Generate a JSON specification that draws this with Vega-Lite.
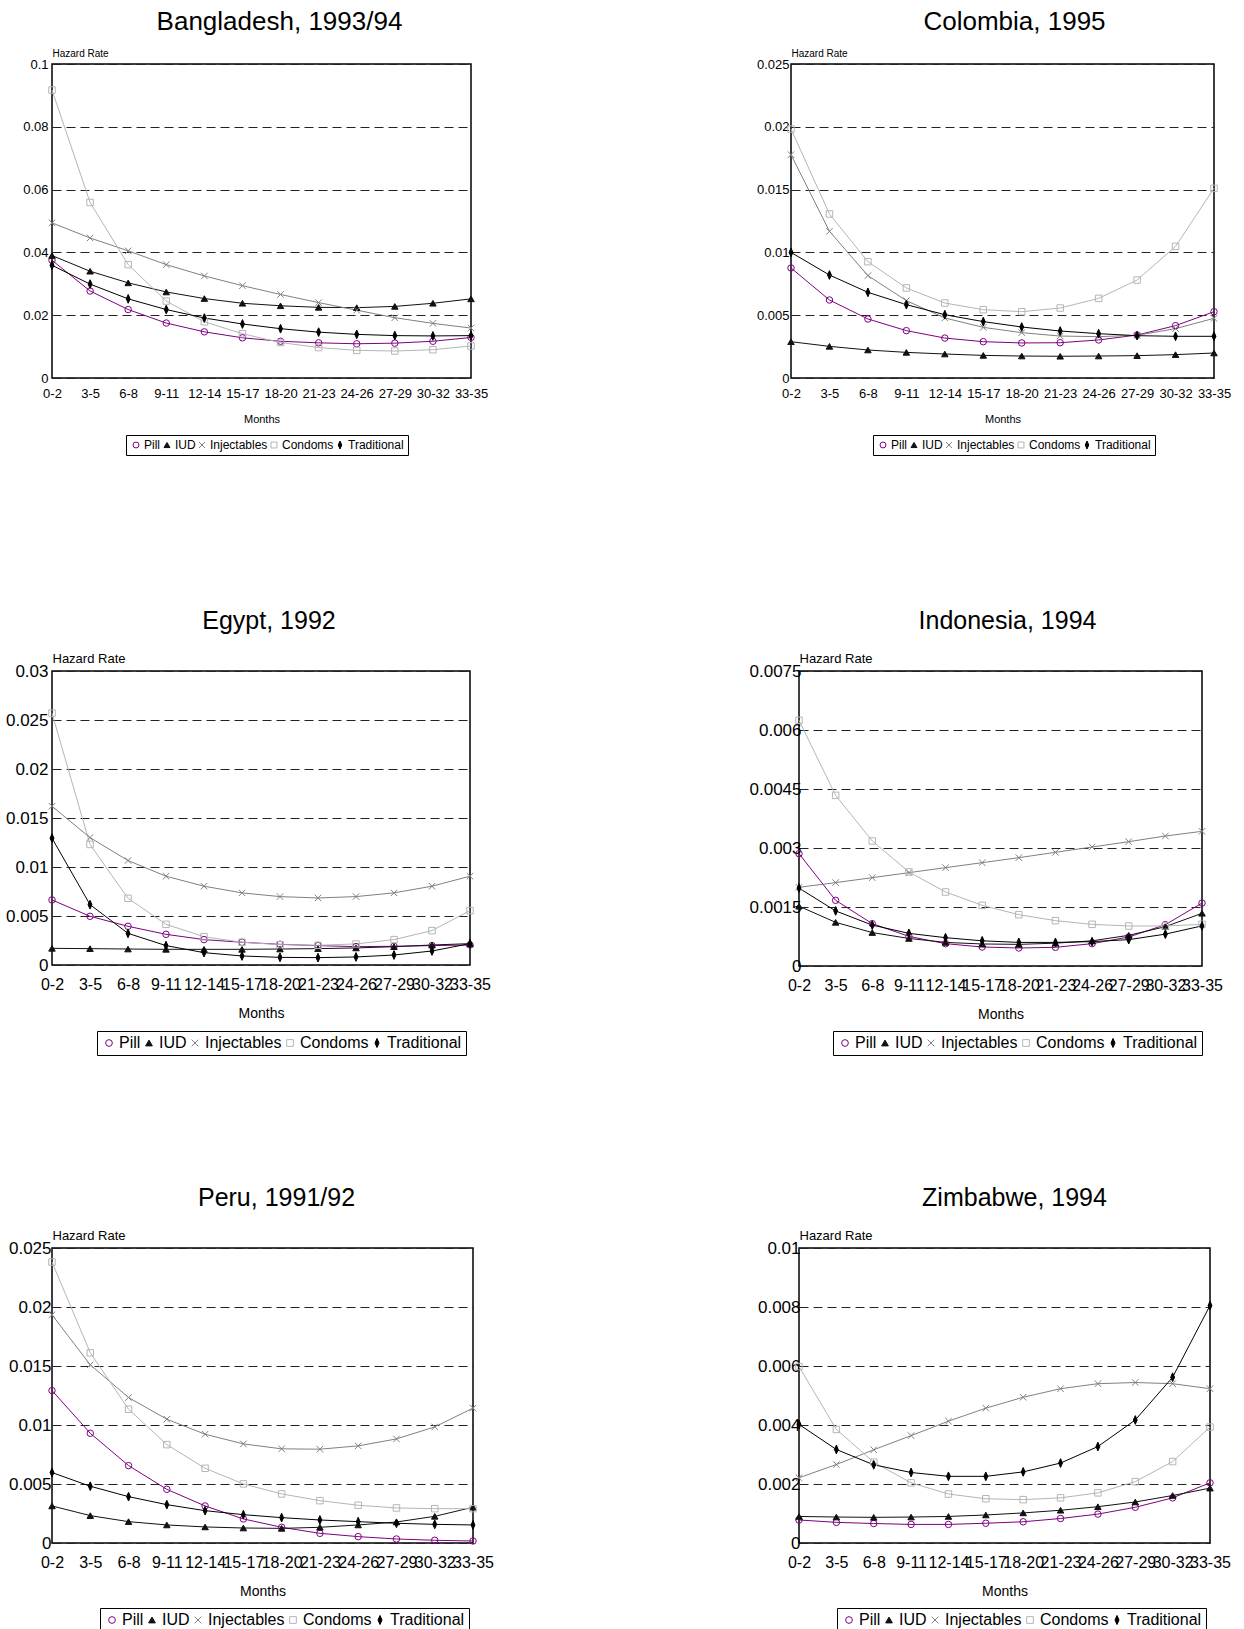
{
"$schema": "https://vega.github.io/schema/vega-lite/v6.json",
"background": "white",
"padding": {"left": 4, "top": 8, "right": 0, "bottom": 0},
"config": {
 "font": "Liberation Sans",
 "view": {"stroke": "black", "strokeWidth": 1.5},
 "axis": {"ticks": false, "domain": false, "labelColor": "black", "titleColor": "black", "titleFont": "Liberation Sans", "titleFontWeight": "normal", "labelFont": "Liberation Sans"},
 "axisY": {"grid": true, "gridColor": "#222222", "gridDash": [9, 5], "gridWidth": 1, "titleAngle": 0, "titleAlign": "left", "titleBaseline": "alphabetic", "titleX": 0, "titleY": -9, "labelFontSize": 17, "titleFontSize": 13, "labelPadding": 3},
 "axisX": {"grid": false, "labelAngle": 0, "labelFontSize": 16, "titleFontSize": 14, "labelPadding": 11, "titlePadding": 14, "labelOverlap": false},
 "legend": {"orient": "none", "direction": "horizontal", "columns": 5, "strokeColor": "black", "padding": 4, "labelFontSize": 16, "symbolSize": 45, "columnPadding": 0, "labelOffset": 2, "symbolStrokeWidth": 1, "labelColor": "black", "labelFont": "Liberation Sans"},
 "title": {"fontSize": 25, "fontWeight": "normal", "font": "Liberation Sans", "color": "black", "frame": "group", "anchor": "middle", "offset": 18},
 "point": {"size": 42, "strokeWidth": 1, "opacity": 1}
},
"datasets": {
 "bd": [
  {"m":"0-2","s":"Pill","v":0.0375},{"m":"3-5","s":"Pill","v":0.0277},{"m":"6-8","s":"Pill","v":0.0218},{"m":"9-11","s":"Pill","v":0.0175},{"m":"12-14","s":"Pill","v":0.0147},{"m":"15-17","s":"Pill","v":0.0128},{"m":"18-20","s":"Pill","v":0.0117},{"m":"21-23","s":"Pill","v":0.0112},{"m":"24-26","s":"Pill","v":0.0109},{"m":"27-29","s":"Pill","v":0.0111},{"m":"30-32","s":"Pill","v":0.0117},{"m":"33-35","s":"Pill","v":0.0129},
  {"m":"0-2","s":"IUD","v":0.039},{"m":"3-5","s":"IUD","v":0.034},{"m":"6-8","s":"IUD","v":0.0303},{"m":"9-11","s":"IUD","v":0.0274},{"m":"12-14","s":"IUD","v":0.0253},{"m":"15-17","s":"IUD","v":0.0238},{"m":"18-20","s":"IUD","v":0.023},{"m":"21-23","s":"IUD","v":0.0225},{"m":"24-26","s":"IUD","v":0.0224},{"m":"27-29","s":"IUD","v":0.0228},{"m":"30-32","s":"IUD","v":0.0238},{"m":"33-35","s":"IUD","v":0.0252},
  {"m":"0-2","s":"Injectables","v":0.0494},{"m":"3-5","s":"Injectables","v":0.0446},{"m":"6-8","s":"Injectables","v":0.0405},{"m":"9-11","s":"Injectables","v":0.0361},{"m":"12-14","s":"Injectables","v":0.0325},{"m":"15-17","s":"Injectables","v":0.0294},{"m":"18-20","s":"Injectables","v":0.0266},{"m":"21-23","s":"Injectables","v":0.024},{"m":"24-26","s":"Injectables","v":0.0216},{"m":"27-29","s":"Injectables","v":0.0192},{"m":"30-32","s":"Injectables","v":0.0174},{"m":"33-35","s":"Injectables","v":0.0159},
  {"m":"0-2","s":"Condoms","v":0.0917},{"m":"3-5","s":"Condoms","v":0.0559},{"m":"6-8","s":"Condoms","v":0.0361},{"m":"9-11","s":"Condoms","v":0.0245},{"m":"12-14","s":"Condoms","v":0.0179},{"m":"15-17","s":"Condoms","v":0.0141},{"m":"18-20","s":"Condoms","v":0.0113},{"m":"21-23","s":"Condoms","v":0.0097},{"m":"24-26","s":"Condoms","v":0.0088},{"m":"27-29","s":"Condoms","v":0.0086},{"m":"30-32","s":"Condoms","v":0.009},{"m":"33-35","s":"Condoms","v":0.0102},
  {"m":"0-2","s":"Traditional","v":0.0359},{"m":"3-5","s":"Traditional","v":0.0299},{"m":"6-8","s":"Traditional","v":0.0252},{"m":"9-11","s":"Traditional","v":0.0218},{"m":"12-14","s":"Traditional","v":0.0191},{"m":"15-17","s":"Traditional","v":0.0172},{"m":"18-20","s":"Traditional","v":0.0157},{"m":"21-23","s":"Traditional","v":0.0146},{"m":"24-26","s":"Traditional","v":0.0139},{"m":"27-29","s":"Traditional","v":0.0135},{"m":"30-32","s":"Traditional","v":0.0134},{"m":"33-35","s":"Traditional","v":0.0135}
 ],
 "co": [
  {"m":"0-2","s":"Pill","v":0.00876},{"m":"3-5","s":"Pill","v":0.00621},{"m":"6-8","s":"Pill","v":0.0047},{"m":"9-11","s":"Pill","v":0.00377},{"m":"12-14","s":"Pill","v":0.00318},{"m":"15-17","s":"Pill","v":0.00289},{"m":"18-20","s":"Pill","v":0.00279},{"m":"21-23","s":"Pill","v":0.00281},{"m":"24-26","s":"Pill","v":0.00303},{"m":"27-29","s":"Pill","v":0.00342},{"m":"30-32","s":"Pill","v":0.00417},{"m":"33-35","s":"Pill","v":0.00528},
  {"m":"0-2","s":"IUD","v":0.00289},{"m":"3-5","s":"IUD","v":0.00252},{"m":"6-8","s":"IUD","v":0.00223},{"m":"9-11","s":"IUD","v":0.00204},{"m":"12-14","s":"IUD","v":0.00191},{"m":"15-17","s":"IUD","v":0.0018},{"m":"18-20","s":"IUD","v":0.00175},{"m":"21-23","s":"IUD","v":0.00173},{"m":"24-26","s":"IUD","v":0.00175},{"m":"27-29","s":"IUD","v":0.00178},{"m":"30-32","s":"IUD","v":0.00186},{"m":"33-35","s":"IUD","v":0.00199},
  {"m":"0-2","s":"Injectables","v":0.01778},{"m":"3-5","s":"Injectables","v":0.01168},{"m":"6-8","s":"Injectables","v":0.00815},{"m":"9-11","s":"Injectables","v":0.00616},{"m":"12-14","s":"Injectables","v":0.00478},{"m":"15-17","s":"Injectables","v":0.00403},{"m":"18-20","s":"Injectables","v":0.00361},{"m":"21-23","s":"Injectables","v":0.00334},{"m":"24-26","s":"Injectables","v":0.00329},{"m":"27-29","s":"Injectables","v":0.0034},{"m":"30-32","s":"Injectables","v":0.00393},{"m":"33-35","s":"Injectables","v":0.00475},
  {"m":"0-2","s":"Condoms","v":0.01982},{"m":"3-5","s":"Condoms","v":0.01306},{"m":"6-8","s":"Condoms","v":0.00926},{"m":"9-11","s":"Condoms","v":0.00717},{"m":"12-14","s":"Condoms","v":0.00597},{"m":"15-17","s":"Condoms","v":0.00544},{"m":"18-20","s":"Condoms","v":0.00528},{"m":"21-23","s":"Condoms","v":0.00557},{"m":"24-26","s":"Condoms","v":0.00634},{"m":"27-29","s":"Condoms","v":0.0078},{"m":"30-32","s":"Condoms","v":0.01048},{"m":"33-35","s":"Condoms","v":0.0151},
  {"m":"0-2","s":"Traditional","v":0.01},{"m":"3-5","s":"Traditional","v":0.0082},{"m":"6-8","s":"Traditional","v":0.00682},{"m":"9-11","s":"Traditional","v":0.00584},{"m":"12-14","s":"Traditional","v":0.00504},{"m":"15-17","s":"Traditional","v":0.00449},{"m":"18-20","s":"Traditional","v":0.00406},{"m":"21-23","s":"Traditional","v":0.00374},{"m":"24-26","s":"Traditional","v":0.00353},{"m":"27-29","s":"Traditional","v":0.00337},{"m":"30-32","s":"Traditional","v":0.00332},{"m":"33-35","s":"Traditional","v":0.00332}
 ],
 "eg": [
  {"m":"0-2","s":"Pill","v":0.00664},{"m":"3-5","s":"Pill","v":0.00497},{"m":"6-8","s":"Pill","v":0.00395},{"m":"9-11","s":"Pill","v":0.00313},{"m":"12-14","s":"Pill","v":0.00259},{"m":"15-17","s":"Pill","v":0.00232},{"m":"18-20","s":"Pill","v":0.00211},{"m":"21-23","s":"Pill","v":0.00198},{"m":"24-26","s":"Pill","v":0.00187},{"m":"27-29","s":"Pill","v":0.00191},{"m":"30-32","s":"Pill","v":0.00198},{"m":"33-35","s":"Pill","v":0.00204},
  {"m":"0-2","s":"IUD","v":0.0017},{"m":"3-5","s":"IUD","v":0.00167},{"m":"6-8","s":"IUD","v":0.00163},{"m":"9-11","s":"IUD","v":0.0016},{"m":"12-14","s":"IUD","v":0.0016},{"m":"15-17","s":"IUD","v":0.0016},{"m":"18-20","s":"IUD","v":0.00163},{"m":"21-23","s":"IUD","v":0.00167},{"m":"24-26","s":"IUD","v":0.00174},{"m":"27-29","s":"IUD","v":0.00187},{"m":"30-32","s":"IUD","v":0.00204},{"m":"33-35","s":"IUD","v":0.00218},
  {"m":"0-2","s":"Injectables","v":0.0162},{"m":"3-5","s":"Injectables","v":0.013},{"m":"6-8","s":"Injectables","v":0.01066},{"m":"9-11","s":"Injectables","v":0.00906},{"m":"12-14","s":"Injectables","v":0.00804},{"m":"15-17","s":"Injectables","v":0.00736},{"m":"18-20","s":"Injectables","v":0.00698},{"m":"21-23","s":"Injectables","v":0.00684},{"m":"24-26","s":"Injectables","v":0.00698},{"m":"27-29","s":"Injectables","v":0.00736},{"m":"30-32","s":"Injectables","v":0.00804},{"m":"33-35","s":"Injectables","v":0.00906},
  {"m":"0-2","s":"Condoms","v":0.0257},{"m":"3-5","s":"Condoms","v":0.0123},{"m":"6-8","s":"Condoms","v":0.00681},{"m":"9-11","s":"Condoms","v":0.00415},{"m":"12-14","s":"Condoms","v":0.00289},{"m":"15-17","s":"Condoms","v":0.00232},{"m":"18-20","s":"Condoms","v":0.00208},{"m":"21-23","s":"Condoms","v":0.00201},{"m":"24-26","s":"Condoms","v":0.00215},{"m":"27-29","s":"Condoms","v":0.00259},{"m":"30-32","s":"Condoms","v":0.00351},{"m":"33-35","s":"Condoms","v":0.00555},
  {"m":"0-2","s":"Traditional","v":0.01294},{"m":"3-5","s":"Traditional","v":0.00616},{"m":"6-8","s":"Traditional","v":0.00323},{"m":"9-11","s":"Traditional","v":0.00198},{"m":"12-14","s":"Traditional","v":0.00126},{"m":"15-17","s":"Traditional","v":0.00092},{"m":"18-20","s":"Traditional","v":0.00078},{"m":"21-23","s":"Traditional","v":0.00075},{"m":"24-26","s":"Traditional","v":0.00082},{"m":"27-29","s":"Traditional","v":0.00102},{"m":"30-32","s":"Traditional","v":0.00143},{"m":"33-35","s":"Traditional","v":0.00218}
 ],
 "id": [
  {"m":"0-2","s":"Pill","v":0.002856},{"m":"3-5","s":"Pill","v":0.00167},{"m":"6-8","s":"Pill","v":0.001076},{"m":"9-11","s":"Pill","v":0.000754},{"m":"12-14","s":"Pill","v":0.000568},{"m":"15-17","s":"Pill","v":0.000483},{"m":"18-20","s":"Pill","v":0.000458},{"m":"21-23","s":"Pill","v":0.000475},{"m":"24-26","s":"Pill","v":0.000568},{"m":"27-29","s":"Pill","v":0.000737},{"m":"30-32","s":"Pill","v":0.001051},{"m":"33-35","s":"Pill","v":0.0016},
  {"m":"0-2","s":"IUD","v":0.00152},{"m":"3-5","s":"IUD","v":0.00111},{"m":"6-8","s":"IUD","v":0.00085},{"m":"9-11","s":"IUD","v":0.0007},{"m":"12-14","s":"IUD","v":0.0006},{"m":"15-17","s":"IUD","v":0.00056},{"m":"18-20","s":"IUD","v":0.00055},{"m":"21-23","s":"IUD","v":0.00058},{"m":"24-26","s":"IUD","v":0.00064},{"m":"27-29","s":"IUD","v":0.00078},{"m":"30-32","s":"IUD","v":0.001},{"m":"33-35","s":"IUD","v":0.00134},
  {"m":"0-2","s":"Injectables","v":0.002},{"m":"3-5","s":"Injectables","v":0.00212},{"m":"6-8","s":"Injectables","v":0.002246},{"m":"9-11","s":"Injectables","v":0.002373},{"m":"12-14","s":"Injectables","v":0.0025},{"m":"15-17","s":"Injectables","v":0.002627},{"m":"18-20","s":"Injectables","v":0.002754},{"m":"21-23","s":"Injectables","v":0.00289},{"m":"24-26","s":"Injectables","v":0.003025},{"m":"27-29","s":"Injectables","v":0.003161},{"m":"30-32","s":"Injectables","v":0.003305},{"m":"33-35","s":"Injectables","v":0.003424},
  {"m":"0-2","s":"Condoms","v":0.006246},{"m":"3-5","s":"Condoms","v":0.004339},{"m":"6-8","s":"Condoms","v":0.003178},{"m":"9-11","s":"Condoms","v":0.00239},{"m":"12-14","s":"Condoms","v":0.001881},{"m":"15-17","s":"Condoms","v":0.001542},{"m":"18-20","s":"Condoms","v":0.001305},{"m":"21-23","s":"Condoms","v":0.001153},{"m":"24-26","s":"Condoms","v":0.001059},{"m":"27-29","s":"Condoms","v":0.001017},{"m":"30-32","s":"Condoms","v":0.001017},{"m":"33-35","s":"Condoms","v":0.001059},
  {"m":"0-2","s":"Traditional","v":0.00198},{"m":"3-5","s":"Traditional","v":0.0014},{"m":"6-8","s":"Traditional","v":0.00104},{"m":"9-11","s":"Traditional","v":0.00083},{"m":"12-14","s":"Traditional","v":0.00072},{"m":"15-17","s":"Traditional","v":0.00064},{"m":"18-20","s":"Traditional","v":0.0006},{"m":"21-23","s":"Traditional","v":0.0006},{"m":"24-26","s":"Traditional","v":0.00062},{"m":"27-29","s":"Traditional","v":0.00067},{"m":"30-32","s":"Traditional","v":0.00081},{"m":"33-35","s":"Traditional","v":0.00102}
 ],
 "pe": [
  {"m":"0-2","s":"Pill","v":0.01292},{"m":"3-5","s":"Pill","v":0.0093},{"m":"6-8","s":"Pill","v":0.00656},{"m":"9-11","s":"Pill","v":0.00455},{"m":"12-14","s":"Pill","v":0.00314},{"m":"15-17","s":"Pill","v":0.00204},{"m":"18-20","s":"Pill","v":0.00133},{"m":"21-23","s":"Pill","v":0.00082},{"m":"24-26","s":"Pill","v":0.00054},{"m":"27-29","s":"Pill","v":0.00034},{"m":"30-32","s":"Pill","v":0.00023},{"m":"33-35","s":"Pill","v":0.00017},
  {"m":"0-2","s":"IUD","v":0.00314},{"m":"3-5","s":"IUD","v":0.00232},{"m":"6-8","s":"IUD","v":0.00181},{"m":"9-11","s":"IUD","v":0.00153},{"m":"12-14","s":"IUD","v":0.00136},{"m":"15-17","s":"IUD","v":0.00127},{"m":"18-20","s":"IUD","v":0.00124},{"m":"21-23","s":"IUD","v":0.00133},{"m":"24-26","s":"IUD","v":0.00153},{"m":"27-29","s":"IUD","v":0.00178},{"m":"30-32","s":"IUD","v":0.00226},{"m":"33-35","s":"IUD","v":0.00303},
  {"m":"0-2","s":"Injectables","v":0.01934},{"m":"3-5","s":"Injectables","v":0.0151},{"m":"6-8","s":"Injectables","v":0.01233},{"m":"9-11","s":"Injectables","v":0.01049},{"m":"12-14","s":"Injectables","v":0.00922},{"m":"15-17","s":"Injectables","v":0.0084},{"m":"18-20","s":"Injectables","v":0.00798},{"m":"21-23","s":"Injectables","v":0.00795},{"m":"24-26","s":"Injectables","v":0.00823},{"m":"27-29","s":"Injectables","v":0.00882},{"m":"30-32","s":"Injectables","v":0.00984},{"m":"33-35","s":"Injectables","v":0.01143},
  {"m":"0-2","s":"Condoms","v":0.02381},{"m":"3-5","s":"Condoms","v":0.01612},{"m":"6-8","s":"Condoms","v":0.01134},{"m":"9-11","s":"Condoms","v":0.00834},{"m":"12-14","s":"Condoms","v":0.00633},{"m":"15-17","s":"Condoms","v":0.00501},{"m":"18-20","s":"Condoms","v":0.00416},{"m":"21-23","s":"Condoms","v":0.00359},{"m":"24-26","s":"Condoms","v":0.0032},{"m":"27-29","s":"Condoms","v":0.00297},{"m":"30-32","s":"Condoms","v":0.00291},{"m":"33-35","s":"Condoms","v":0.00291},
  {"m":"0-2","s":"Traditional","v":0.00597},{"m":"3-5","s":"Traditional","v":0.00481},{"m":"6-8","s":"Traditional","v":0.00393},{"m":"9-11","s":"Traditional","v":0.00325},{"m":"12-14","s":"Traditional","v":0.00274},{"m":"15-17","s":"Traditional","v":0.0024},{"m":"18-20","s":"Traditional","v":0.00215},{"m":"21-23","s":"Traditional","v":0.00195},{"m":"24-26","s":"Traditional","v":0.00181},{"m":"27-29","s":"Traditional","v":0.00167},{"m":"30-32","s":"Traditional","v":0.00158},{"m":"33-35","s":"Traditional","v":0.00153}
 ],
 "zw": [
  {"m":"0-2","s":"Pill","v":0.00078},{"m":"3-5","s":"Pill","v":0.0007},{"m":"6-8","s":"Pill","v":0.00066},{"m":"9-11","s":"Pill","v":0.00063},{"m":"12-14","s":"Pill","v":0.00063},{"m":"15-17","s":"Pill","v":0.00067},{"m":"18-20","s":"Pill","v":0.00072},{"m":"21-23","s":"Pill","v":0.00083},{"m":"24-26","s":"Pill","v":0.00098},{"m":"27-29","s":"Pill","v":0.00121},{"m":"30-32","s":"Pill","v":0.00153},{"m":"33-35","s":"Pill","v":0.00204},
  {"m":"0-2","s":"IUD","v":0.0009},{"m":"3-5","s":"IUD","v":0.00088},{"m":"6-8","s":"IUD","v":0.00087},{"m":"9-11","s":"IUD","v":0.00088},{"m":"12-14","s":"IUD","v":0.0009},{"m":"15-17","s":"IUD","v":0.00095},{"m":"18-20","s":"IUD","v":0.00102},{"m":"21-23","s":"IUD","v":0.00111},{"m":"24-26","s":"IUD","v":0.00123},{"m":"27-29","s":"IUD","v":0.00139},{"m":"30-32","s":"IUD","v":0.00161},{"m":"33-35","s":"IUD","v":0.00186},
  {"m":"0-2","s":"Injectables","v":0.00221},{"m":"3-5","s":"Injectables","v":0.00266},{"m":"6-8","s":"Injectables","v":0.00316},{"m":"9-11","s":"Injectables","v":0.00364},{"m":"12-14","s":"Injectables","v":0.00413},{"m":"15-17","s":"Injectables","v":0.00457},{"m":"18-20","s":"Injectables","v":0.00494},{"m":"21-23","s":"Injectables","v":0.00523},{"m":"24-26","s":"Injectables","v":0.0054},{"m":"27-29","s":"Injectables","v":0.00544},{"m":"30-32","s":"Injectables","v":0.0054},{"m":"33-35","s":"Injectables","v":0.00523},
  {"m":"0-2","s":"Condoms","v":0.00598},{"m":"3-5","s":"Condoms","v":0.00385},{"m":"6-8","s":"Condoms","v":0.00274},{"m":"9-11","s":"Condoms","v":0.00204},{"m":"12-14","s":"Condoms","v":0.00166},{"m":"15-17","s":"Condoms","v":0.0015},{"m":"18-20","s":"Condoms","v":0.00147},{"m":"21-23","s":"Condoms","v":0.00153},{"m":"24-26","s":"Condoms","v":0.0017},{"m":"27-29","s":"Condoms","v":0.00208},{"m":"30-32","s":"Condoms","v":0.00276},{"m":"33-35","s":"Condoms","v":0.00393},
  {"m":"0-2","s":"Traditional","v":0.00402},{"m":"3-5","s":"Traditional","v":0.00317},{"m":"6-8","s":"Traditional","v":0.00265},{"m":"9-11","s":"Traditional","v":0.00239},{"m":"12-14","s":"Traditional","v":0.00226},{"m":"15-17","s":"Traditional","v":0.00226},{"m":"18-20","s":"Traditional","v":0.00241},{"m":"21-23","s":"Traditional","v":0.00271},{"m":"24-26","s":"Traditional","v":0.00327},{"m":"27-29","s":"Traditional","v":0.00417},{"m":"30-32","s":"Traditional","v":0.00562},{"m":"33-35","s":"Traditional","v":0.00805}
 ]
},
"spacing": 128,
"resolve": {"scale": {"stroke": "independent", "shape": "independent", "fill": "independent"}, "legend": {"stroke": "independent", "shape": "independent", "fill": "independent"}},
"vconcat": [
 {"spacing": 151,
  "resolve": {"scale": {"stroke": "independent", "shape": "independent", "fill": "independent"}, "legend": {"stroke": "independent", "shape": "independent", "fill": "independent"}},
  "vconcat": [
  {"hconcat": [
   {"width": 419, "height": 314, "data": {"name": "bd"},
    "title": {"text": "Bangladesh, 1993/94", "dx": 18, "fontSize": 26, "offset": 13},
    "encoding": {
     "x": {"field": "m", "type": "ordinal", "sort": ["0-2","3-5","6-8","9-11","12-14","15-17","18-20","21-23","24-26","27-29","30-32","33-35"], "scale": {"type": "point", "padding": 0}, "axis": {"title": "Months", "labelFontSize": 13, "titleFontSize": 11, "labelPadding": 9, "titlePadding": 13}},
     "y": {"field": "v", "type": "quantitative", "scale": {"domain": [0, 0.1], "nice": false}, "axis": {"values": [0, 0.02, 0.04, 0.06, 0.08, 0.1], "format": ".2~g", "title": "Hazard Rate", "labelFontSize": 13, "titleFontSize": 10, "titleY": -8, "labelPadding": 4}},
     "stroke": {"field": "s", "type": "nominal", "scale": {"domain": ["Pill","IUD","Injectables","Condoms","Traditional"], "range": ["#800080","#111111","#808080","#b5b5b5","#000000"]}, "legend": {"title": null, "orient": "none", "legendX": 74, "legendY": 371, "labelFontSize": 12, "symbolSize": 35}}
    },
    "layer": [
     {"mark": {"type": "line", "strokeWidth": 1}},
     {"mark": {"type": "point", "filled": true},
      "encoding": {
       "shape": {"field": "s", "type": "nominal", "scale": {"domain": ["Pill","IUD","Injectables","Condoms","Traditional"], "range": ["circle","triangle-up","M-1,-1L1,1M-1,1L1,-1","square","M0,-1.35L0.6,0L0,1.35L-0.6,0Z"]}, "legend": {"title": null, "orient": "none", "legendX": 74, "legendY": 371, "labelFontSize": 12, "symbolSize": 35}},
       "fill": {"field": "s", "type": "nominal", "scale": {"domain": ["Pill","IUD","Injectables","Condoms","Traditional"], "range": ["transparent","#111111","transparent","transparent","#000000"]}, "legend": {"title": null, "orient": "none", "legendX": 74, "legendY": 371, "labelFontSize": 12, "symbolSize": 35}}
      }}
    ]},
   {"width": 423, "height": 314, "data": {"name": "co"},
    "title": {"text": "Colombia, 1995", "dx": 12, "fontSize": 26, "offset": 13},
    "encoding": {
     "x": {"field": "m", "type": "ordinal", "sort": ["0-2","3-5","6-8","9-11","12-14","15-17","18-20","21-23","24-26","27-29","30-32","33-35"], "scale": {"type": "point", "padding": 0}, "axis": {"title": "Months", "labelFontSize": 13, "titleFontSize": 11, "labelPadding": 9, "titlePadding": 13}},
     "y": {"field": "v", "type": "quantitative", "scale": {"domain": [0, 0.025], "nice": false}, "axis": {"values": [0, 0.005, 0.01, 0.015, 0.02, 0.025], "format": ".2~g", "title": "Hazard Rate", "labelFontSize": 13, "titleFontSize": 10, "titleY": -8, "labelPadding": 2}},
     "stroke": {"field": "s", "type": "nominal", "scale": {"domain": ["Pill","IUD","Injectables","Condoms","Traditional"], "range": ["#800080","#111111","#808080","#b5b5b5","#000000"]}, "legend": {"title": null, "orient": "none", "legendX": 82, "legendY": 371, "labelFontSize": 12, "symbolSize": 35}}
    },
    "layer": [
     {"mark": {"type": "line", "strokeWidth": 1}},
     {"mark": {"type": "point", "filled": true},
      "encoding": {
       "shape": {"field": "s", "type": "nominal", "scale": {"domain": ["Pill","IUD","Injectables","Condoms","Traditional"], "range": ["circle","triangle-up","M-1,-1L1,1M-1,1L1,-1","square","M0,-1.35L0.6,0L0,1.35L-0.6,0Z"]}, "legend": {"title": null, "orient": "none", "legendX": 82, "legendY": 371, "labelFontSize": 12, "symbolSize": 35}},
       "fill": {"field": "s", "type": "nominal", "scale": {"domain": ["Pill","IUD","Injectables","Condoms","Traditional"], "range": ["transparent","#111111","transparent","transparent","#000000"]}, "legend": {"title": null, "orient": "none", "legendX": 82, "legendY": 371, "labelFontSize": 12, "symbolSize": 35}}
      }}
    ]}
  ], "spacing": 320, "bounds": "flush",
  "resolve": {"scale": {"stroke": "independent", "shape": "independent", "fill": "independent"}, "legend": {"stroke": "independent", "shape": "independent", "fill": "independent"}}},
  {"hconcat": [
   {"width": 418, "height": 294, "data": {"name": "eg"},
    "title": {"text": "Egypt, 1992", "dx": 8},
    "encoding": {
     "x": {"field": "m", "type": "ordinal", "sort": ["0-2","3-5","6-8","9-11","12-14","15-17","18-20","21-23","24-26","27-29","30-32","33-35"], "scale": {"type": "point", "padding": 0}, "axis": {"title": "Months"}},
     "y": {"field": "v", "type": "quantitative", "scale": {"domain": [0, 0.03], "nice": false}, "axis": {"values": [0, 0.005, 0.01, 0.015, 0.02, 0.025, 0.03], "format": ".2~g", "title": "Hazard Rate", "labelPadding": 4}},
     "stroke": {"field": "s", "type": "nominal", "scale": {"domain": ["Pill","IUD","Injectables","Condoms","Traditional"], "range": ["#800080","#111111","#808080","#b5b5b5","#000000"]}, "legend": {"title": null, "orient": "none", "legendX": 45, "legendY": 360}}
    },
    "layer": [
     {"mark": {"type": "line", "strokeWidth": 1}},
     {"mark": {"type": "point", "filled": true},
      "encoding": {
       "shape": {"field": "s", "type": "nominal", "scale": {"domain": ["Pill","IUD","Injectables","Condoms","Traditional"], "range": ["circle","triangle-up","M-1,-1L1,1M-1,1L1,-1","square","M0,-1.35L0.6,0L0,1.35L-0.6,0Z"]}, "legend": {"title": null, "orient": "none", "legendX": 45, "legendY": 360}},
       "fill": {"field": "s", "type": "nominal", "scale": {"domain": ["Pill","IUD","Injectables","Condoms","Traditional"], "range": ["transparent","#111111","transparent","transparent","#000000"]}, "legend": {"title": null, "orient": "none", "legendX": 45, "legendY": 360}}
      }}
    ]},
   {"width": 403, "height": 295, "data": {"name": "id"},
    "title": {"text": "Indonesia, 1994", "dx": 7},
    "encoding": {
     "x": {"field": "m", "type": "ordinal", "sort": ["0-2","3-5","6-8","9-11","12-14","15-17","18-20","21-23","24-26","27-29","30-32","33-35"], "scale": {"type": "point", "padding": 0}, "axis": {"title": "Months"}},
     "y": {"field": "v", "type": "quantitative", "scale": {"domain": [0, 0.0075], "nice": false}, "axis": {"values": [0, 0.0015, 0.003, 0.0045, 0.006, 0.0075], "format": ".2~g", "title": "Hazard Rate", "labelPadding": -2}},
     "stroke": {"field": "s", "type": "nominal", "scale": {"domain": ["Pill","IUD","Injectables","Condoms","Traditional"], "range": ["#800080","#111111","#808080","#b5b5b5","#000000"]}, "legend": {"title": null, "orient": "none", "legendX": 34, "legendY": 360}}
    },
    "layer": [
     {"mark": {"type": "line", "strokeWidth": 1}},
     {"mark": {"type": "point", "filled": true},
      "encoding": {
       "shape": {"field": "s", "type": "nominal", "scale": {"domain": ["Pill","IUD","Injectables","Condoms","Traditional"], "range": ["circle","triangle-up","M-1,-1L1,1M-1,1L1,-1","square","M0,-1.35L0.6,0L0,1.35L-0.6,0Z"]}, "legend": {"title": null, "orient": "none", "legendX": 34, "legendY": 360}},
       "fill": {"field": "s", "type": "nominal", "scale": {"domain": ["Pill","IUD","Injectables","Condoms","Traditional"], "range": ["transparent","#111111","transparent","transparent","#000000"]}, "legend": {"title": null, "orient": "none", "legendX": 34, "legendY": 360}}
      }}
    ]}
  ], "spacing": 329, "bounds": "flush",
  "resolve": {"scale": {"stroke": "independent", "shape": "independent", "fill": "independent"}, "legend": {"stroke": "independent", "shape": "independent", "fill": "independent"}}}
 ]},
 {"hconcat": [
  {"width": 421, "height": 295, "data": {"name": "pe"},
   "title": {"text": "Peru, 1991/92", "dx": 14},
   "encoding": {
    "x": {"field": "m", "type": "ordinal", "sort": ["0-2","3-5","6-8","9-11","12-14","15-17","18-20","21-23","24-26","27-29","30-32","33-35"], "scale": {"type": "point", "padding": 0}, "axis": {"title": "Months"}},
    "y": {"field": "v", "type": "quantitative", "scale": {"domain": [0, 0.025], "nice": false}, "axis": {"values": [0, 0.005, 0.01, 0.015, 0.02, 0.025], "format": ".2~g", "title": "Hazard Rate", "labelPadding": 1}},
    "stroke": {"field": "s", "type": "nominal", "scale": {"domain": ["Pill","IUD","Injectables","Condoms","Traditional"], "range": ["#800080","#111111","#808080","#b5b5b5","#000000"]}, "legend": {"title": null, "orient": "none", "legendX": 48, "legendY": 360}}
   },
   "layer": [
    {"mark": {"type": "line", "strokeWidth": 1}},
    {"mark": {"type": "point", "filled": true},
     "encoding": {
      "shape": {"field": "s", "type": "nominal", "scale": {"domain": ["Pill","IUD","Injectables","Condoms","Traditional"], "range": ["circle","triangle-up","M-1,-1L1,1M-1,1L1,-1","square","M0,-1.35L0.6,0L0,1.35L-0.6,0Z"]}, "legend": {"title": null, "orient": "none", "legendX": 48, "legendY": 360}},
      "fill": {"field": "s", "type": "nominal", "scale": {"domain": ["Pill","IUD","Injectables","Condoms","Traditional"], "range": ["transparent","#111111","transparent","transparent","#000000"]}, "legend": {"title": null, "orient": "none", "legendX": 48, "legendY": 360}}
     }}
   ]},
  {"width": 411, "height": 295, "data": {"name": "zw"},
   "title": {"text": "Zimbabwe, 1994", "dx": 10},
   "encoding": {
    "x": {"field": "m", "type": "ordinal", "sort": ["0-2","3-5","6-8","9-11","12-14","15-17","18-20","21-23","24-26","27-29","30-32","33-35"], "scale": {"type": "point", "padding": 0}, "axis": {"title": "Months"}},
    "y": {"field": "v", "type": "quantitative", "scale": {"domain": [0, 0.01], "nice": false}, "axis": {"values": [0, 0.002, 0.004, 0.006, 0.008, 0.01], "format": ".2~g", "title": "Hazard Rate", "labelPadding": -1}},
    "stroke": {"field": "s", "type": "nominal", "scale": {"domain": ["Pill","IUD","Injectables","Condoms","Traditional"], "range": ["#800080","#111111","#808080","#b5b5b5","#000000"]}, "legend": {"title": null, "orient": "none", "legendX": 38, "legendY": 360}}
   },
   "layer": [
    {"mark": {"type": "line", "strokeWidth": 1}},
    {"mark": {"type": "point", "filled": true},
     "encoding": {
      "shape": {"field": "s", "type": "nominal", "scale": {"domain": ["Pill","IUD","Injectables","Condoms","Traditional"], "range": ["circle","triangle-up","M-1,-1L1,1M-1,1L1,-1","square","M0,-1.35L0.6,0L0,1.35L-0.6,0Z"]}, "legend": {"title": null, "orient": "none", "legendX": 38, "legendY": 360}},
      "fill": {"field": "s", "type": "nominal", "scale": {"domain": ["Pill","IUD","Injectables","Condoms","Traditional"], "range": ["transparent","#111111","transparent","transparent","#000000"]}, "legend": {"title": null, "orient": "none", "legendX": 38, "legendY": 360}}
     }}
   ]}
 ], "spacing": 326, "bounds": "flush",
 "resolve": {"scale": {"stroke": "independent", "shape": "independent", "fill": "independent"}, "legend": {"stroke": "independent", "shape": "independent", "fill": "independent"}}}
]
}
